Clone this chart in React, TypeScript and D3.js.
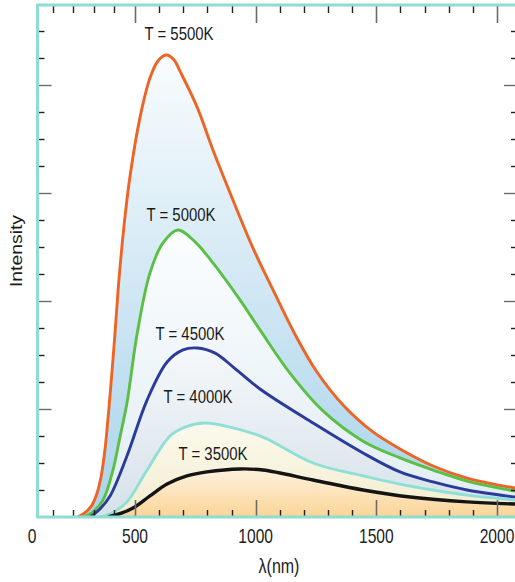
import { useEffect, useRef } from 'react';
import * as d3 from 'd3';

type Pt = [number, number];

// wavelength (nm), intensity (arbitrary units)
const curve5500: Pt[] = [
  [223, 0], [262, 0.19], [291, 0.44], [316, 0.89], [335, 1.48], [354, 2.48], [379, 4.52],
  [403, 6.81], [422, 8.78], [447, 10.81], [476, 12.63], [521, 14.81], [562, 16.26],
  [595, 16.89], [628, 17.11], [662, 16.93], [686, 16.52], [757, 15.19], [823, 13.59],
  [894, 12.0], [989, 9.96], [1072, 8.41], [1171, 6.63], [1254, 5.37], [1362, 4.15],
  [1486, 3.15], [1598, 2.52], [1735, 1.89], [1876, 1.44], [2075, 1.07],
];
const curve5000: Pt[] = [
  [248, 0], [296, 0.19], [345, 0.63], [393, 1.74], [427, 2.96], [461, 4.22], [508, 6.74],
  [562, 9.04], [616, 10.15], [678, 10.63], [749, 10.19], [823, 9.41], [935, 8.04],
  [1018, 6.93], [1142, 5.33], [1279, 3.93], [1445, 2.81], [1598, 2.19], [1735, 1.74],
  [1876, 1.33], [2075, 0.96],
];
const curve4500: Pt[] = [
  [282, 0], [330, 0.3], [379, 0.78], [461, 2.26], [550, 4.33], [633, 5.74], [699, 6.19],
  [757, 6.26], [832, 6.07], [906, 5.56], [1018, 4.74], [1238, 3.48], [1445, 2.37],
  [1598, 1.67], [1735, 1.3], [1876, 1.0], [2075, 0.74],
];
const curve4000: Pt[] = [
  [330, 0], [388, 0.15], [461, 0.56], [550, 1.74], [645, 3.0], [707, 3.33], [790, 3.48],
  [894, 3.33], [1030, 2.96], [1238, 2.0], [1445, 1.52], [1598, 1.22], [1735, 1.0],
  [1876, 0.81], [2075, 0.63],
];
const curve3500: Pt[] = [
  [369, 0], [437, 0.15], [490, 0.33], [562, 0.78], [633, 1.22], [715, 1.52], [798, 1.67],
  [935, 1.78], [1030, 1.74], [1238, 1.37], [1445, 1.0], [1640, 0.74], [1876, 0.56],
  [2075, 0.48],
];

const seriesNames = ['T = 5500K', 'T = 5000K', 'T = 4500K', 'T = 4000K', 'T = 3500K'];
const seriesData = [curve5500, curve5000, curve4500, curve4000, curve3500];

const xTickLabels = [0, 500, 1000, 1500, 2000];
const xMinorTicks = d3.range(100, 2001, 100);
const yMinorTicks = d3.range(1, 19);

const lineColors = ['#ee6425', '#5cbf45', '#2b3b9a', '#8ee0d6', '#141414'];
const fillStops = [
  ['#f9fcfd', '#a9d3eb'],
  ['#fbfdfe', '#e1edf3'],
  ['#f5f8fa', '#d6e1e9'],
  ['#fbf9ec', '#f2edcf'],
  ['#fdf2de', '#fbd497'],
];
const labelPos: Pt[] = [[179, 40], [181, 221], [190, 340], [198, 403], [213, 460]];

const W = 515;
const H = 582;
// right edge of the frame sits just outside the picture
const frame = { left: 37.5, top: 5, right: 518, bottom: 517 };
const font = 'Liberation Sans, Arial, sans-serif';

const App = () => {
  const ref = useRef<SVGSVGElement | null>(null);

  useEffect(() => {
    if (!ref.current) return;
    const svg = d3.select(ref.current);
    svg.selectAll('*').remove();

    // the printed axis puts 0 right at the frame's edge
    const x = d3.scaleLinear().domain([0, 500, 2000]).range([32, 135, 497]);
    const y = d3.scaleLinear().domain([0, 19]).range([frame.bottom, 4]);

    const defs = svg.append('defs');
    defs.append('clipPath').attr('id', 'plot-clip')
      .append('rect')
      .attr('x', frame.left).attr('y', frame.top)
      .attr('width', frame.right - frame.left).attr('height', frame.bottom - frame.top);

    seriesData.forEach((d, i) => {
      const peak = d3.max(d, p => p[1]) || 0;
      const g = defs.append('linearGradient')
        .attr('id', `fill-${i}`)
        .attr('gradientUnits', 'userSpaceOnUse')
        .attr('x1', 0).attr('x2', 0)
        .attr('y1', y(peak)).attr('y2', frame.bottom);
      g.append('stop').attr('offset', 0).attr('stop-color', fillStops[i][0]);
      g.append('stop').attr('offset', 1).attr('stop-color', fillStops[i][1]);
    });

    const plot = svg.append('g').attr('clip-path', 'url(#plot-clip)');

    const area = d3.area<Pt>()
      .x(d => x(d[0]))
      .y0(y(0))
      .y1(d => y(d[1]))
      .curve(d3.curveCatmullRom.alpha(0.5));
    const line = d3.line<Pt>()
      .x(d => x(d[0]))
      .y(d => y(d[1]))
      .curve(d3.curveCatmullRom.alpha(0.5));

    // Areas, biggest first
    plot.selectAll('.area')
      .data(seriesData)
      .enter().append('path')
      .attr('class', 'area')
      .attr('d', d => area(d))
      .attr('fill', (_, i) => `url(#fill-${i})`);

    // Curves
    plot.selectAll('.curve')
      .data(seriesData)
      .enter().append('path')
      .attr('class', 'curve')
      .attr('d', d => line(d))
      .attr('fill', 'none')
      .attr('stroke', (_, i) => lineColors[i])
      .attr('stroke-width', (_, i) => (i === 4 ? 3.4 : 2.9))
      .attr('stroke-linejoin', 'round');

    // Ticks (bottom + top)
    const ticks = svg.append('g');
    xMinorTicks.forEach(v => {
      const major = v % 500 === 0;
      const px = Math.round(x(v)) + 0.5;
      if (px < frame.left || px > frame.right) return;
      const len = major ? 17 : 7;
      const col = major ? '#6b6b6b' : '#222';
      ticks.append('line')
        .attr('x1', px).attr('x2', px)
        .attr('y1', frame.bottom).attr('y2', frame.bottom - len)
        .attr('stroke', col).attr('stroke-width', major ? 1.6 : 1.4);
      ticks.append('line')
        .attr('x1', px).attr('x2', px)
        .attr('y1', frame.top).attr('y2', frame.top + len + 1)
        .attr('stroke', col).attr('stroke-width', major ? 1.6 : 1.4);
    });

    // Ticks (left + right)
    yMinorTicks.forEach(v => {
      const major = v % 4 === 0;
      const py = Math.round(y(v)) + 0.5;
      const len = major ? 14 : 7;
      const col = major ? '#6b6b6b' : '#222';
      ticks.append('line')
        .attr('x1', frame.left).attr('x2', frame.left + len)
        .attr('y1', py).attr('y2', py)
        .attr('stroke', col).attr('stroke-width', 1.4);
      ticks.append('line')
        .attr('x1', frame.right).attr('x2', frame.right - len)
        .attr('y1', py).attr('y2', py)
        .attr('stroke', col).attr('stroke-width', 1.4);
    });

    // Frame
    svg.append('rect')
      .attr('x', frame.left).attr('y', frame.top)
      .attr('width', frame.right - frame.left)
      .attr('height', frame.bottom - frame.top)
      .attr('fill', 'none')
      .attr('stroke', '#8fdcd3')
      .attr('stroke-width', 3);

    // X tick labels
    svg.selectAll('.x-label')
      .data(xTickLabels)
      .enter().append('text')
      .attr('class', 'x-label')
      .attr('transform', d => `translate(${x(d)},543) scale(0.78,1)`)
      .attr('text-anchor', 'middle')
      .text(d => String(d));

    // Curve labels
    svg.selectAll('.t-label')
      .data(seriesNames)
      .enter().append('text')
      .attr('class', 't-label')
      .attr('transform', (_, i) => `translate(${labelPos[i][0]},${labelPos[i][1]}) scale(0.83,1)`)
      .attr('text-anchor', 'middle')
      .text(d => d);

    // Axis titles
    svg.append('text')
      .attr('class', 'axis-title lam')
      .attr('transform', 'translate(279,573) scale(0.8,1)')
      .attr('text-anchor', 'middle')
      .text('λ(nm)');

    svg.append('text')
      .attr('class', 'axis-title')
      .attr('transform', 'translate(21.5,251) rotate(-90)')
      .attr('text-anchor', 'middle')
      .attr('textLength', 72)
      .attr('lengthAdjust', 'spacingAndGlyphs')
      .text('Intensity');
  }, []);

  return (
    <>
      <svg
        ref={ref}
        width={W}
        height={H}
        style={{ position: 'absolute', left: 0, top: 0, background: '#fff' }}
      />
      <style>{`
        .x-label { font-family: ${font}; font-size: 20px; fill: #1e1e1e; }
        .t-label { font-family: ${font}; font-size: 18px; fill: #1a1a1a; }
        .axis-title { font-family: ${font}; font-size: 17px; fill: #1a1a1a; }
        .axis-title.lam { font-size: 20px; }
      `}</style>
    </>
  );
};

export default App;
